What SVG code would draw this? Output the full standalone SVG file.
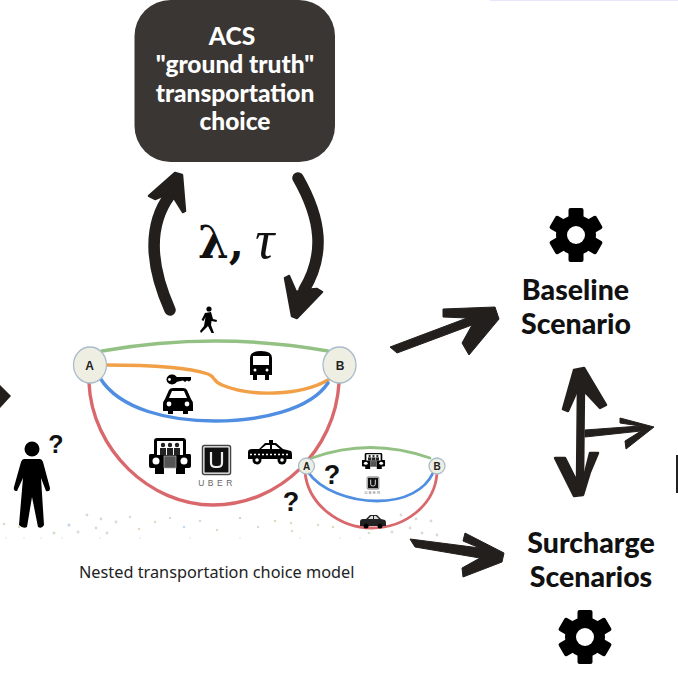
<svg xmlns="http://www.w3.org/2000/svg" xmlns:xlink="http://www.w3.org/1999/xlink" width="678" height="678" viewBox="0 0 678 678">
<style>
.t{font-family:"Lato","Liberation Sans",sans-serif;font-weight:900;text-anchor:middle}
.acs{fill:#fff;font-size:24.5px}
.sc{fill:#111;font-size:28.5px}
.q{font-family:"Liberation Sans",sans-serif;font-weight:700;fill:#111;text-anchor:middle}
.nd{fill:#eeeee2;stroke:#a9bccb;stroke-width:1.3}
.nl{font-family:"Liberation Sans",sans-serif;font-weight:700;fill:#222;text-anchor:middle}
.e{fill:none;stroke-width:3.4;stroke-linecap:round}
.es{fill:none;stroke-width:2.8;stroke-linecap:round}
.g{stroke:#93c184}.o{stroke:#f2a048}.b{stroke:#4f8ee0}.r{stroke:#d9686c}
.a{fill:none;stroke:#231f1c;stroke-linecap:round;stroke-linejoin:round}
.hd{fill:#231f1c;stroke:#231f1c;stroke-width:2.5;stroke-linejoin:round}
.thin{stroke-width:1}
</style>
<defs>
<g id="gear"><circle r="20" fill="#000"/><g fill="#000"><rect x="-7.500" y="-27" width="15" height="12" rx="2"/><rect x="-7.500" y="-27" width="15" height="12" rx="2" transform="rotate(60)"/><rect x="-7.500" y="-27" width="15" height="12" rx="2" transform="rotate(120)"/><rect x="-7.500" y="-27" width="15" height="12" rx="2" transform="rotate(180)"/><rect x="-7.500" y="-27" width="15" height="12" rx="2" transform="rotate(240)"/><rect x="-7.500" y="-27" width="15" height="12" rx="2" transform="rotate(300)"/></g><circle r="9" fill="#fff"/></g>
<g id="car"><path d="M-13 -1 L-9 -10 Q-8 -12 -5 -12 H5 Q8 -12 9 -10 L13 -1 Q15 1 15 5 V11 H10 V14 H5 V11 H-5 V14 H-10 V11 H-15 V5 Q-15 1 -13 -1Z" fill="#000"/><path d="M-9 -2 L-6 -9 H6 L9 -2Z" fill="#fff"/><circle cx="-9" cy="4" r="2.400" fill="#fff"/><circle cx="9" cy="4" r="2.400" fill="#fff"/></g>
<g id="van"><path d="M-16 -15 Q-16 -18 -13 -18 H13 Q16 -18 16 -15 V-2 H20 Q21 -2 21 0 V10 Q21 12 19 12 H15 V18 H6 V12 H-6 V18 H-15 V12 H-19 Q-21 12 -21 10 V0 Q-21 -2 -20 -2 H-16Z" fill="#000"/><rect x="-13" y="-15" width="26" height="14" fill="#fff"/><g fill="#222"><circle cx="-7" cy="-11" r="2.200"/><circle cx="0" cy="-11" r="2.200"/><circle cx="7" cy="-11" r="2.200"/><rect x="-10" y="-8" width="6" height="7"/><rect x="-3" y="-8" width="6" height="7"/><rect x="4" y="-8" width="6" height="7"/></g><rect x="-6" y="0" width="12" height="12" fill="#555" stroke="#aaa" stroke-width=".7"/><circle cx="-14" cy="5" r="3.500" fill="#fff"/><circle cx="14" cy="5" r="3.500" fill="#fff"/></g>
<g id="uber"><rect x="-14" y="-14.500" width="28" height="29" rx="2" fill="#fff" stroke="#444" stroke-width="1.500"/><rect x="-12" y="-12.500" width="24" height="25" fill="#111"/><path d="M-5.500 -8 V3 Q-5.500 7 -1 7 H1 Q5.500 7 5.500 3 V-8" fill="none" stroke="#eee" stroke-width="2.200"/></g>
<g id="taxi"><path d="M-22 0 Q-22 -3 -18 -3 L-11 -3 L-5 -9 H-1 V-12 H3 V-9 H6 L13 -3 L21 -1 Q22 0 22 3 V7 H-22Z" fill="#000"/><path d="M-9 -3 L-4 -7 H0 V-3Z M2 -3 V-7 H5 L10 -3Z" fill="#fff"/><path d="M-20 2.500 H20" stroke="#fff" stroke-width="1.300" stroke-dasharray="2 2"/><circle cx="-13" cy="8" r="4.500" fill="#000"/><circle cx="12" cy="8" r="4.500" fill="#000"/><circle cx="-13" cy="8" r="1.800" fill="#fff"/><circle cx="12" cy="8" r="1.800" fill="#fff"/></g>
<g id="sedan"><path d="M-13 1 Q-13 -2 -10 -2 H-7 L-3 -6 H4 L8 -2 L12 -1 Q13 0 13 2 V5 H-13Z" fill="#222"/><path d="M-5 -2 L-2 -5 H0 V-2Z M1 -2 V-5 H3 L6 -2Z" fill="#ddd"/><circle cx="-7" cy="5" r="2.500" fill="#000"/><circle cx="7" cy="5" r="2.500" fill="#000"/></g>
</defs>
<rect width="678" height="678" fill="#fff"/>
<rect x="490" y="0" width="188" height="1" fill="#e6e6f8"/>
<rect x="676" y="455" width="2" height="38" fill="#222"/>
<path d="M0 385 L11 396 L0 408Z" fill="#231f1c"/>

<g id="dots" fill="#c9c9c9" opacity=".7">
<circle cx="4" cy="524" r="1.200" fill="#b8d8a8"/><circle cx="19" cy="527" r="1.200" fill="#b8d8a8"/><circle cx="69" cy="525" r="1.600" fill="#a8c4e8"/><circle cx="54" cy="533" r="1.500" fill="#b8d8a8"/><circle cx="78" cy="532" r="1.400"/><circle cx="87" cy="515" r="1.400"/><circle cx="101" cy="519" r="1.400"/><circle cx="96" cy="528" r="1.400"/><circle cx="107" cy="533" r="1.400"/><circle cx="116" cy="522" r="1.400"/><circle cx="130" cy="517" r="1.200"/><circle cx="139" cy="529" r="1.200" fill="#e8c4a8"/><circle cx="155" cy="522" r="1.200" fill="#b8d8a8"/><circle cx="170" cy="518" r="1.200"/><circle cx="184" cy="527" r="1.200" fill="#a8c4e8"/><circle cx="200" cy="521" r="1.200"/><circle cx="217" cy="530" r="1.200" fill="#b8d8a8"/><circle cx="240" cy="518" r="1.200" fill="#a8c4e8"/><circle cx="258" cy="527" r="1.200"/><circle cx="275" cy="521" r="1.200" fill="#b8d8a8"/><circle cx="292" cy="531" r="1.200" fill="#b8d8a8"/><circle cx="291" cy="523" r="1.200" fill="#b8d8a8"/><circle cx="318" cy="525" r="1.200" fill="#b8d8a8"/><circle cx="333" cy="527" r="1.200" fill="#b8d8a8"/><circle cx="369" cy="533" r="1.300" fill="#b8d8a8"/><circle cx="401" cy="515" r="1.400"/><circle cx="416" cy="519" r="1.400"/><circle cx="431" cy="521" r="1.400"/><circle cx="392" cy="532" r="1.400"/><circle cx="410" cy="528" r="1.400"/><circle cx="422" cy="533" r="1.400"/><circle cx="437" cy="535" r="1.400"/>
<g fill="#c8d8ec"><circle cx="6" cy="538" r=".8"/><circle cx="24" cy="538" r=".8"/><circle cx="41" cy="538" r=".8"/><circle cx="62" cy="538" r=".8"/><circle cx="100" cy="538" r=".8"/><circle cx="140" cy="538" r=".8"/><circle cx="190" cy="538" r=".8"/><circle cx="240" cy="538" r=".8"/><circle cx="300" cy="538" r=".8"/><circle cx="340" cy="538" r=".8"/><circle cx="360" cy="538" r=".8"/></g>
</g>

<g id="connectors">
<path class="e g" d="M102 351 Q215 331 328 351"/>
<path class="e o" d="M106 365 C150 365 190 368 208 374 C216 377 212 381 222 385 C250 397 300 396 328 380"/>
<path class="e b" d="M100 378 C120 410 170 421 215 421 C260 421 310 410 328 383"/>
<path class="e r" d="M89 383 C92 450 150 505 213 505 C280 505 335 450 339 383"/>
<path class="es g" d="M312 458 Q370 437 430 458"/>
<path class="es b" d="M308 472 C320 490 350 501 377 501 C405 501 425 490 433 473"/>
<path class="es r" d="M305 472 C308 505 340 528 372 528 C405 528 435 505 437 473"/>

<path class="a" stroke-width="11.500" d="M170 310 C150 265 148 225 170 195"/>
<path class="hd" d="M149 196 L175 173 L182 175 L185 211 L183 212 L173 196 L162 196 L155 199Z"/>
<path class="a" stroke-width="11.500" d="M298 178 C322 220 325 255 304 290"/>
<path class="hd" d="M285 278 L292 316 L297 318 L322 292 L317 289 L304 290 L296 292 L289 276Z"/>
<path class="hd thin" d="M390 347 L467 318 L443 317 L443 309 L495 307 L499 319 L469 355 L462 343 L472 325 L397 353Z"/>
<path class="hd thin" d="M410 539 L480 548 L463 541 L465 533 L504 553 L502 562 L463 577 L462 568 L480 558 L415 547Z"/>
<path class="a" stroke-width="8.500" stroke-linecap="butt" d="M581 385 L580 480"/>
<path class="hd" d="M563 409 L574 370 L584 368 L606 405 L600 408 L586 393 L576 393 L568 411Z"/>
<path class="hd" d="M555 458 L565 458 L575 478 L585 473 L590 453 L598 453 L590 472 L583 495 L574 496Z"/>
<path class="hd thin" d="M585 430 L640 426 L620 423 L620 418 L654 427 L626 449 L625 441 L641 431 L585 437Z"/>
</g>

<g id="acs"><rect x="134.500" y="0" width="200.500" height="162" rx="36" fill="#3a3633"/>
<text class="t acs" x="232" y="45">ACS</text><text class="t acs" x="235" y="73">"ground truth"</text><text class="t acs" x="235" y="102">transportation</text><text class="t acs" x="235" y="130">choice</text></g>

<g id="params"><text x="198" y="258" font-family="'DejaVu Serif','Liberation Serif',serif" font-weight="700" font-size="44" fill="#111">λ,</text><text x="255" y="258" font-family="'Liberation Serif',serif" font-style="italic" font-size="54" fill="#111">τ</text></g>

<g id="node-a"><ellipse class="nd" cx="90" cy="365" rx="16.500" ry="18"/><text class="nl" x="89.500" y="369.500" font-size="12">A</text></g>
<g id="node-b"><ellipse class="nd" cx="339.500" cy="365" rx="16.500" ry="18"/><text class="nl" x="340" y="369.500" font-size="12">B</text></g>
<g id="node-a2"><circle class="nd" cx="306.500" cy="466" r="8"/><text class="nl" x="306.500" y="470" font-size="10">A</text></g>
<g id="node-b2"><circle class="nd" cx="437" cy="466" r="8"/><text class="nl" x="437" y="470" font-size="10">B</text></g>

<g id="walker" fill="#000"><circle cx="209" cy="309" r="2.600"/><path d="M205 313 L211 312 L213 319 L217 320 L216.500 322 L211.500 321 L211 325 L214 333 L211.500 333 L208 326 L205 329 L201 333 L200 331 L204 326 L205.500 317 L203.500 321 L201.500 320Z"/></g>
<g id="bus"><path d="M250 358 Q250 351 261 351 Q272 351 272 358 V375 H269 V380 H265 V375 H257 V380 H253 V375 H250Z" fill="#000"/><rect x="253" y="356" width="16" height="9" fill="#fff"/><circle cx="255" cy="370" r="1.500" fill="#fff"/><circle cx="267" cy="370" r="1.500" fill="#fff"/></g>
<g id="key"><ellipse cx="172" cy="379.500" rx="5.500" ry="5" fill="#000"/><path d="M176 377 H191 V380 L189 381.500 L187 380.500 L185 382 L183 380.500 L176 382Z" fill="#000"/><circle cx="169.500" cy="379.500" r="1.400" fill="#fff"/></g>
<use id="car1" xlink:href="#car" href="#car" x="178" y="400"/>
<use id="van1" xlink:href="#van" href="#van" x="170" y="456"/>
<g id="uber1"><use xlink:href="#uber" href="#uber" x="216.500" y="460"/><text x="217" y="486" font-family="'Liberation Sans',sans-serif" font-size="8.500" letter-spacing="3.500" text-anchor="middle" fill="#666">UBER</text></g>
<use id="taxi1" xlink:href="#taxi" href="#taxi" x="270" y="452"/>
<use id="van2" xlink:href="#van" href="#van" transform="translate(373.500 461) scale(.55 .45)"/>
<g id="uber2"><use xlink:href="#uber" href="#uber" transform="translate(373 483) scale(.42 .42)"/><text x="373" y="494" font-family="'Liberation Sans',sans-serif" font-size="4" letter-spacing="1.500" text-anchor="middle" fill="#666">UBER</text></g>
<use id="sedan2" xlink:href="#sedan" href="#sedan" x="373" y="521"/>

<g id="person" fill="#000"><circle cx="32" cy="449" r="7.500"/><path d="M24 459 H40 Q42 459 43 462 L50 488 Q50 492 46 491 L41 478 L44 525 Q42 529 38 527 L32 497 L27 527 Q23 529 19 525 L23 478 L17 491 Q13 491 14 487 L21 462 Q22 459 24 459Z"/></g>
<text class="q" x="56" y="453" font-size="25">?</text>
<text class="q" x="332" y="484" font-size="27">?</text>
<text class="q" x="291" y="511" font-size="27">?</text>

<text id="nested" x="79" y="578" font-family="'Noto Sans','Open Sans',sans-serif" font-size="16.300" fill="#222">Nested transportation choice model</text>

<g id="baseline"><use xlink:href="#gear" href="#gear" x="576" y="235"/><text class="t sc" x="575.500" y="300">Baseline</text><text class="t sc" x="576" y="334">Scenario</text></g>
<g id="surcharge"><text class="t sc" x="591" y="553">Surcharge</text><text class="t sc" x="591" y="587">Scenarios</text><use xlink:href="#gear" href="#gear" x="585" y="637"/></g>
</svg>
